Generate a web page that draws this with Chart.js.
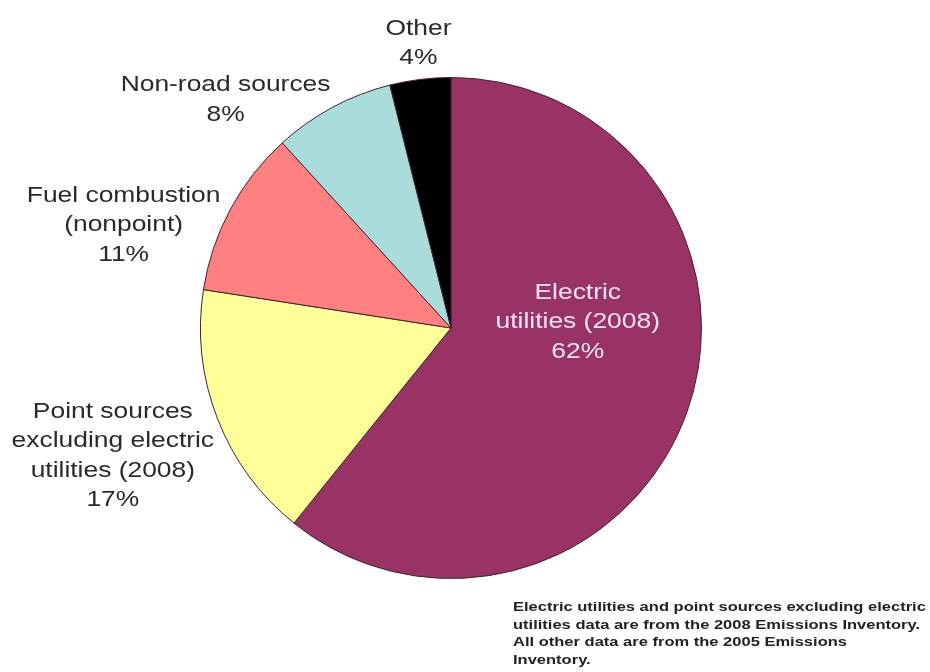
<!DOCTYPE html>
<html>
<head>
<meta charset="utf-8">
<script src="https://cdn.jsdelivr.net/npm/chart.js@4/dist/chart.umd.min.js"></script>
<style>
  html, body { margin: 0; padding: 0; background: #fff; }
  #wrap { position: relative; width: 930px; height: 672px; overflow: hidden; }
  #nota {
    position: absolute; left: 513px; top: 598px; white-space: nowrap;
    font: bold 13px "Liberation Sans", Arial, sans-serif; line-height: 17.7px;
    color: #222; transform: scaleX(1.27); transform-origin: left top;
  }
</style>
</head>
<body>
<div id="wrap">
  <canvas id="pie" width="930" height="672"></canvas>
  <div id="nota">Electric utilities and point sources excluding electric<br>utilities data are from the 2008 Emissions Inventory.<br>All other data are from the 2005 Emissions<br>Inventory.</div>
</div>
<script>
// Fuentes de emisión (sentido horario desde las 12)
const CATEGORIAS = [
  ["Electric", "utilities (2008)"],
  ["Point sources", "excluding electric", "utilities (2008)"],
  ["Fuel combustion", "(nonpoint)"],
  ["Non-road sources"],
  ["Other"],
];
const PORCENTAJES = [62, 17, 11, 8, 4];
const COLORES = ["#993366", "#ffff99", "#ff8080", "#aadcdc", "#000000"];

// Ubicación de cada etiqueta, relativa al centro y radio del pastel
const POS_ETIQUETAS = [
  { dx: 0.506, dy: -0.024, color: "#f5e4ef" },
  { dx: -1.35, dy: 0.51, color: "#2a2a2a" },
  { dx: -1.307, dy: -0.41, color: "#2a2a2a" },
  { dx: -0.90, dy: -0.91, color: "#2a2a2a" },
  { dx: -0.13, dy: -1.135, color: "#2a2a2a" },
];

const etiquetasPlugin = {
  id: "etiquetas",
  afterDatasetsDraw(chart) {
    const ctx = chart.ctx;
    const arcs = chart.getDatasetMeta(0).data;
    if (!arcs.length) return;
    const cx = arcs[0].x;
    const cy = arcs[0].y;
    const r = arcs[0].outerRadius;
    const lh = 29.5;
    const sx = 1.2; // texto algo ensanchado
    ctx.save();
    ctx.font = '22px "Liberation Sans", Arial, sans-serif';
    ctx.textAlign = "center";
    ctx.textBaseline = "middle";
    CATEGORIAS.forEach((lineas, i) => {
      const p = POS_ETIQUETAS[i];
      const todas = lineas.concat([PORCENTAJES[i] + "%"]);
      const x = cx + p.dx * r;
      const y0 = cy + p.dy * r - ((todas.length - 1) * lh) / 2;
      ctx.fillStyle = p.color;
      todas.forEach((t, k) => {
        ctx.save();
        ctx.translate(x, y0 + k * lh);
        ctx.scale(sx, 1);
        ctx.fillText(t, 0, 0);
        ctx.restore();
      });
    });
    ctx.restore();
  },
};

new Chart(document.getElementById("pie"), {
  type: "pie",
  data: {
    labels: CATEGORIAS.map((l) => l.join(" ")),
    datasets: [
      {
        data: PORCENTAJES,
        backgroundColor: COLORES,
        borderColor: "#4a2030",
        borderWidth: 1,
      },
    ],
  },
  options: {
    responsive: false,
    animation: false,
    layout: { padding: { left: 200, right: 228, top: 77, bottom: 93 } },
    plugins: {
      legend: { display: false },
      tooltip: { enabled: false },
    },
  },
  plugins: [etiquetasPlugin],
});
</script>
</body>
</html>
